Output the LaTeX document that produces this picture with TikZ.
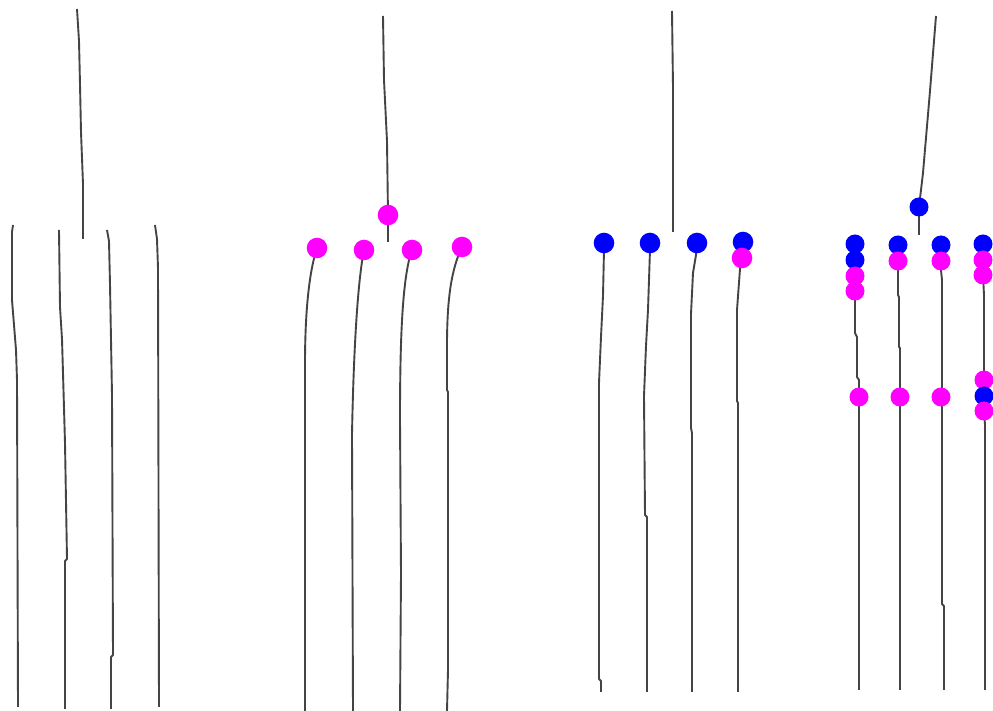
\documentclass[tikz,border=0pt]{standalone}
\definecolor{wirec}{HTML}{444444}
\definecolor{mag}{HTML}{FF00FF}
\definecolor{blu}{HTML}{0000FF}
\tikzset{
  wire/.style={draw=wirec, line width=0.95pt, line join=round},
  mdot/.style={circle, fill=mag, inner sep=0pt, minimum size=10.3pt},
  bdot/.style={circle, fill=blu, inner sep=0pt, minimum size=10.3pt},
  mdots/.style={circle, fill=mag, inner sep=0pt, minimum size=9.5pt},
  bdots/.style={circle, fill=blu, inner sep=0pt, minimum size=9.5pt},
}
\begin{document}
\begin{tikzpicture}[x=0.5pt,y=-0.5pt]
\useasboundingbox (0,0) rectangle (993,711);
\clip (0,0) rectangle (993,711);
\fill[white] (0,0) rectangle (993,711);

% ---------- panel 1 ----------
\coordinate (a0s) at (77,9);   \coordinate (a0e) at (83,239);
\coordinate (a1s) at (13,225); \coordinate (a1e) at (18,707);
\coordinate (a2s) at (59,230); \coordinate (a2e) at (65,709);
\coordinate (a3s) at (107,230);\coordinate (a3e) at (111,709);
\coordinate (a4s) at (155,225);\coordinate (a4e) at (159,707);
\draw[wire] (a0s) -- (79,41) -- (80,84) -- (81,132) -- (83,184) -- (a0e);
\draw[wire] (a1s) -- (12,232) -- (12,300) -- (14,325) -- (16,350) -- (17,380) -- (a1e);
\draw[wire] (a2s) -- (60,307) -- (62,339) -- (63,373) -- (65,443) -- (67,559) -- (65,561) -- (a2e);
\draw[wire] (a3s) -- (109,241) -- (110,284) -- (112,395) -- (113,655) -- (111,657) -- (a3e);
\draw[wire] (a4s) -- (157,239) -- (158,268) -- (a4e);

% ---------- panel 2 ----------
\coordinate (b0s) at (383,16); \coordinate (b0) at (388,215); \coordinate (b0e) at (388,242);
\coordinate (b1) at (317,248); \coordinate (b1e) at (305,711);
\coordinate (b2) at (364,250); \coordinate (b2e) at (353,711);
\coordinate (b3) at (412,250); \coordinate (b3e) at (400,711);
\coordinate (b4) at (462,247); \coordinate (b4e) at (447,711);
\draw[wire] (b0s) -- (384,80) -- (387,141) -- (b0) -- (b0e);
\draw[wire] (b1) .. controls (308,275) and (305,320) .. (305,364) -- (b1e);
\draw[wire] (b2) .. controls (356,290) and (353,380) .. (352,435) -- (b2e);
\draw[wire] (b3) .. controls (403,275) and (400,330) .. (400,419) -- (401,574) -- (b3e);
\draw[wire] (b4) .. controls (451,270) and (447,300) .. (447,346) -- (447,390) -- (448,392) -- (448,670) -- (b4e);
\node[mdot] (B0) at (b0) {};
\node[mdot] (B1) at (b1) {};
\node[mdot] (B2) at (b2) {};
\node[mdot] (B3) at (b3) {};
\node[mdot] (B4) at (b4) {};

% ---------- panel 3 ----------
\coordinate (c0s) at (672,11); \coordinate (c0e) at (673,232);
\coordinate (c1) at (604,243); \coordinate (c1e) at (601,692);
\coordinate (c2) at (650,243); \coordinate (c2e) at (647,692);
\coordinate (c3) at (697,243); \coordinate (c3e) at (692,692);
\coordinate (c4) at (743,242); \coordinate (c4m) at (742,258); \coordinate (c4e) at (738,692);
\draw[wire] (c0s) -- (673,87) -- (c0e);
\draw[wire] (c1) -- (604,250) -- (603,296) -- (601,337) -- (599,383) -- (599,679) -- (601,681) -- (c1e);
\draw[wire] (c2) -- (650,250) -- (648,310) -- (646,346) -- (644,396) -- (645,515) -- (647,517) -- (c2e);
\draw[wire] (c3) -- (696,255) -- (693,273) -- (691,314) -- (691,428) -- (692,433) -- (c3e);
\draw[wire] (c4m) -- (740,269) -- (737,310) -- (737,401) -- (738,403) -- (c4e);
\node[bdot] (C1) at (c1) {};
\node[bdot] (C2) at (c2) {};
\node[bdot] (C3) at (c3) {};
\node[bdot] (C4) at (c4) {};
\node[mdot] (C4m) at (c4m) {};

% ---------- panel 4 ----------
\coordinate (d0s) at (936,16); \coordinate (d0) at (919,207); \coordinate (d0e) at (919,235);
\draw[wire] (d0s) -- (930,91) -- (923,173) -- (d0) -- (d0e);
\node[bdots] (D0) at (d0) {};
% column 1
\coordinate (e1) at (855,244); \coordinate (e2) at (855,260); \coordinate (e3) at (855,276);
\coordinate (e4) at (855,291); \coordinate (e5) at (859,397); \coordinate (ee) at (859,690);
\draw[wire] (e4) -- (855,333) -- (857,337) -- (857,377) -- (859,380) -- (e5) -- (ee);
\node[bdots] (E1) at (e1) {};
\node[bdots] (E2) at (e2) {};
\node[mdots] (E3) at (e3) {};
\node[mdots] (E4) at (e4) {};
\node[mdots] (E5) at (e5) {};
% column 2
\coordinate (f1) at (898,245); \coordinate (f2) at (898,261); \coordinate (f3) at (900,397); \coordinate (fe) at (900,690);
\draw[wire] (f2) -- (898,295) -- (899,297) -- (899,347) -- (900,348) -- (f3) -- (fe);
\node[bdots] (F1) at (f1) {};
\node[mdots] (F2) at (f2) {};
\node[mdots] (F3) at (f3) {};
% column 3
\coordinate (g1) at (941,245); \coordinate (g2) at (941,261); \coordinate (g3) at (941,397); \coordinate (ge) at (944,690);
\draw[wire] (g2) -- (941,270) -- (942,280) -- (942,604) -- (944,606) -- (ge);
\node[bdots] (G1) at (g1) {};
\node[mdots] (G2) at (g2) {};
\node[mdots] (G3) at (g3) {};
% column 4
\coordinate (h1) at (983,244); \coordinate (h2) at (983,260); \coordinate (h3) at (983,275);
\coordinate (h4) at (984,380); \coordinate (h5) at (984,396); \coordinate (h6) at (984,411); \coordinate (he) at (985,690);
\draw[wire] (h3) -- (984,295) -- (h4) -- (h6) -- (985,425) -- (he);
\node[bdots] (H1) at (h1) {};
\node[mdots] (H2) at (h2) {};
\node[mdots] (H3) at (h3) {};
\node[mdots] (H4) at (h4) {};
\node[bdots] (H5) at (h5) {};
\node[mdots] (H6) at (h6) {};
\end{tikzpicture}
\end{document}
